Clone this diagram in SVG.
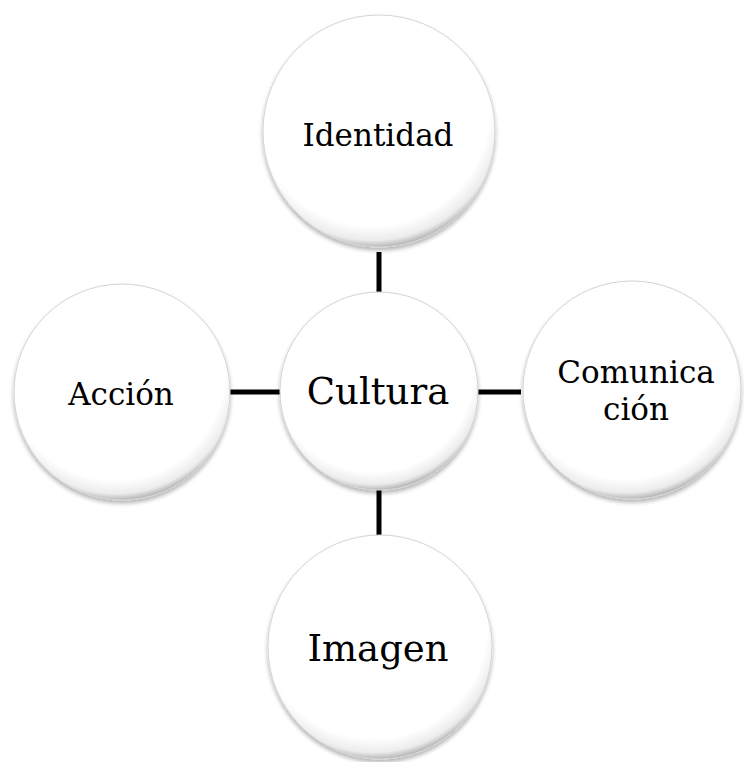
<svg xmlns="http://www.w3.org/2000/svg" width="744" height="762" viewBox="0 0 744 762">
<defs>
<radialGradient id="g" cx="0.47" cy="0.4" r="0.62">
<stop offset="0" stop-color="#ffffff"/>
<stop offset="0.82" stop-color="#ffffff"/>
<stop offset="0.92" stop-color="#ececec"/>
<stop offset="1" stop-color="#959595"/>
</radialGradient>
<filter id="sh" x="-10%" y="-10%" width="120%" height="125%">
<feGaussianBlur in="SourceAlpha" stdDeviation="2"/>
<feOffset dx="0" dy="3" result="b"/>
<feComponentTransfer><feFuncA type="linear" slope="0.3"/></feComponentTransfer>
<feMerge><feMergeNode/><feMergeNode in="SourceGraphic"/></feMerge>
</filter>
</defs>
<style>
.c{fill:url(#g);stroke:#d4d4d4;stroke-width:1;filter:url(#sh)}
.t{font-family:"DejaVu Serif","Liberation Serif",serif;fill:#000;text-anchor:middle}
.l{stroke:#000;stroke-width:5;fill:none}
</style>
<rect width="744" height="762" fill="#fff"/>
<g id="connectors">
<line class="l" x1="379" y1="252" x2="379" y2="294"/>
<line class="l" x1="379" y1="490" x2="379" y2="538"/>
<line class="l" x1="229" y1="392" x2="281" y2="392"/>
<line class="l" x1="477" y1="392" x2="521" y2="392"/>
</g>
<g id="identidad">
<circle class="c" cx="379" cy="131" r="116"/>
<text class="t" x="378" y="146" font-size="31">Identidad</text>
</g>
<g id="cultura">
<circle class="c" cx="379" cy="391" r="99"/>
<text class="t" x="378" y="404" font-size="37">Cultura</text>
</g>
<g id="comunicacion">
<circle class="c" cx="632" cy="390" r="109"/>
<text class="t" x="636" y="383" font-size="31">Comunica</text>
<text class="t" x="636" y="420" font-size="31">ción</text>
</g>
<g id="accion">
<circle class="c" cx="122" cy="392" r="108"/>
<text class="t" x="121" y="405" font-size="31">Acción</text>
</g>
<g id="imagen">
<circle class="c" cx="380" cy="647" r="112"/>
<text class="t" x="378" y="661" font-size="37">Imagen</text>
</g>
</svg>
